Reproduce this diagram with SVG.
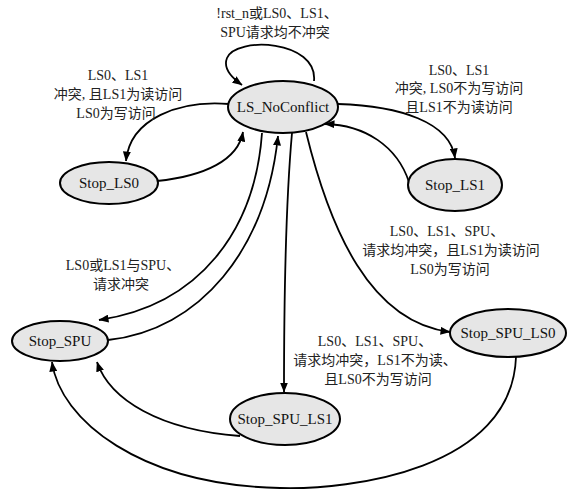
<svg xmlns="http://www.w3.org/2000/svg" width="572" height="496" viewBox="0 0 572 496">
  <defs>
    <marker id="arrow" viewBox="0 0 10 8" refX="9.5" refY="4" markerWidth="10" markerHeight="8" markerUnits="userSpaceOnUse" orient="auto">
      <path d="M0,0 L10,4 L0,8 z" fill="#000"/>
    </marker>
    <style>
      .node ellipse { fill: #e6e6e6; stroke: #000; stroke-width: 2; }
      .node text { font-family: "Liberation Serif", "Noto Sans CJK SC", serif; font-size: 15px; fill: #111; text-anchor: middle; }
      .edge { fill: none; stroke: #000; stroke-width: 1.8; marker-end: url(#arrow); }
      .lbl { font-family: "Liberation Serif", "Noto Sans CJK SC", serif; font-size: 14px; fill: #222; text-anchor: middle; }
    </style>
  </defs>
  <rect width="572" height="496" fill="#fff"/>

  <!-- transitions -->
  <g id="edges">
    <path class="edge" d="M314,81 C318,40 236,36 227,58 C223,68 232,78 242,85"/>
    <path class="edge" d="M229,104 C180,100 130,118 126,161"/>
    <path class="edge" d="M157,181 C205,176 238,160 243,132"/>
    <path class="edge" d="M338,104 C400,106 450,122 455,158"/>
    <path class="edge" d="M409,182 C397,146 365,125 325,124"/>
    <path class="edge" d="M262,133 C255,230 200,305 99,320"/>
    <path class="edge" d="M108,340 C200,330 266,250 278,136"/>
    <path class="edge" d="M292,133 C286,200 284,300 284,392"/>
    <path class="edge" d="M306,132 C330,230 370,322 450,332"/>
    <path class="edge" d="M240,436 C160,430 110,400 97,362"/>
    <path class="edge" d="M516,357 C512,470 350,490 280,488 C140,485 60,420 52,362"/>
  </g>

  <!-- transition conditions -->
  <g id="labels">
    <text class="lbl" x="277" y="18">!rst_n或LS0、LS1、</text>
    <text class="lbl" x="275" y="37">SPU请求均不冲突</text>
    <text class="lbl" x="118" y="80">LS0、LS1</text>
    <text class="lbl" x="118" y="99">冲突, 且LS1为读访问</text>
    <text class="lbl" x="116" y="118">LS0为写访问</text>
    <text class="lbl" x="459" y="75">LS0、LS1</text>
    <text class="lbl" x="459" y="93">冲突, LS0不为写访问</text>
    <text class="lbl" x="459" y="112">且LS1不为读访问</text>
    <text class="lbl" x="447" y="236">LS0、LS1、SPU、</text>
    <text class="lbl" x="451" y="255">请求均冲突，且LS1为读访问</text>
    <text class="lbl" x="450" y="274">LS0为写访问</text>
    <text class="lbl" x="123" y="270">LS0或LS1与SPU、</text>
    <text class="lbl" x="121" y="289">请求冲突</text>
    <text class="lbl" x="375" y="346">LS0、LS1、SPU、</text>
    <text class="lbl" x="375" y="365">请求均冲突，LS1不为读、</text>
    <text class="lbl" x="378" y="384">且LS0不为写访问</text>
  </g>

  <!-- states -->
  <g id="LS_NoConflict" class="node">
    <ellipse cx="283" cy="107" rx="55" ry="26"/>
    <text x="283" y="112">LS_NoConflict</text>
  </g>
  <g id="Stop_LS0" class="node">
    <ellipse cx="109" cy="183" rx="49" ry="21"/>
    <text x="109" y="188">Stop_LS0</text>
  </g>
  <g id="Stop_LS1" class="node">
    <ellipse cx="455" cy="185" rx="47" ry="26"/>
    <text x="455" y="190">Stop_LS1</text>
  </g>
  <g id="Stop_SPU" class="node">
    <ellipse cx="60" cy="341" rx="48" ry="20"/>
    <text x="60" y="346">Stop_SPU</text>
  </g>
  <g id="Stop_SPU_LS0" class="node">
    <ellipse cx="508" cy="333" rx="58" ry="24"/>
    <text x="508" y="338">Stop_SPU_LS0</text>
  </g>
  <g id="Stop_SPU_LS1" class="node">
    <ellipse cx="285" cy="419" rx="55" ry="26"/>
    <text x="285" y="424">Stop_SPU_LS1</text>
  </g>
</svg>
